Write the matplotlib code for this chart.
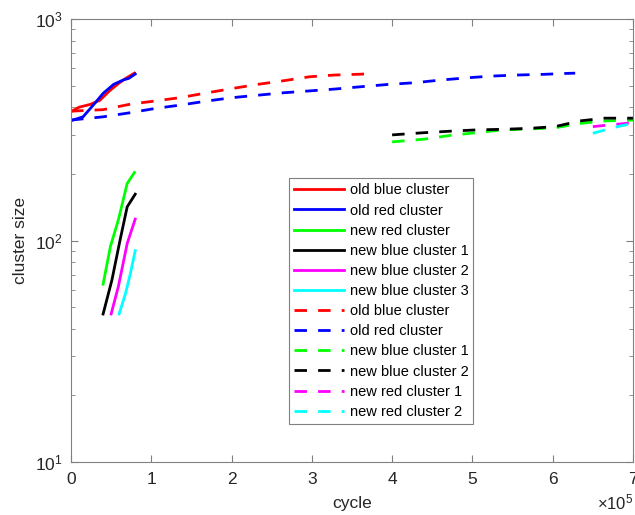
import math

import matplotlib.pyplot as plt
from matplotlib.ticker import FixedLocator, FuncFormatter, LogLocator, NullFormatter

plt.rcParams['font.family'] = ['Liberation Sans', 'DejaVu Sans']
plt.rcParams['mathtext.default'] = 'regular'

# first run (solid) - cycle in units of 1e5
run1_old_blue_x = [0, 0.10, 0.24, 0.36, 0.49, 0.61, 0.70, 0.79]
run1_old_blue_y = [382, 400, 412, 430, 478, 518, 545, 570]
run1_old_red_x = [0, 0.15, 0.28, 0.40, 0.53, 0.65, 0.72, 0.80]
run1_old_red_y = [348, 362, 410, 462, 507, 531, 540, 565]
run1_new_red_x = [0.40, 0.49, 0.59, 0.70, 0.79]
run1_new_red_y = [63.5, 93.7, 124, 181, 203]
run1_new_blue1_x = [0.40, 0.51, 0.61, 0.70, 0.80]
run1_new_blue1_y = [46.6, 66.4, 100, 142, 162]
run1_new_blue2_x = [0.50, 0.59, 0.70, 0.80]
run1_new_blue2_y = [46.6, 62, 97, 125]
run1_new_blue3_x = [0.60, 0.68, 0.74, 0.80]
run1_new_blue3_y = [46.6, 57.8, 71, 90]

# second run (dashed)
run2_old_blue_x = [0, 0.40, 0.74, 1.05, 1.36, 1.70, 2.01, 2.32, 2.65, 2.97, 3.28, 3.61, 3.68]
run2_old_blue_y = [384, 390, 413, 427, 442, 465, 486, 507, 527, 549, 559, 564, 566]
run2_old_red_x = [0, 0.40, 0.74, 1.05, 1.36, 1.70, 2.01, 2.32, 2.65, 2.97, 3.28, 3.61,
                  3.95, 4.28, 4.59, 4.93, 5.24, 5.55, 5.88, 6.20, 6.28]
run2_old_red_y = [350, 362, 378, 395, 409, 427, 442, 453, 465, 474, 483, 495,
                  507, 516, 530, 543, 553, 559, 563, 569, 570]
run2_new_blue1_x = [4.00, 4.40, 4.74, 5.05, 5.38, 5.70, 6.03, 6.34, 6.65, 7.00]
run2_new_blue1_y = [279, 287, 299, 307, 316, 319, 323, 338, 347, 350]
run2_new_blue2_x = [4.00, 4.40, 4.74, 5.05, 5.38, 5.70, 6.03, 6.34, 6.65, 7.00]
run2_new_blue2_y = [300, 307, 312, 316, 318, 321, 327, 347, 357, 357]
run2_new_red1_x = [6.50, 6.68, 6.84, 7.00]
run2_new_red1_y = [327, 332, 336, 341]
run2_new_red2_x = [6.50, 6.68, 6.84, 7.00]
run2_new_red2_y = [305, 318, 329, 338]

RED, BLUE, GREEN = (1, 0, 0), (0, 0, 1), (0, 1, 0)
BLACK, MAGENTA, CYAN = (0, 0, 0), (1, 0, 1), (0, 1, 1)

solid = [
    (run1_old_blue_x, run1_old_blue_y, RED, 'old blue cluster'),
    (run1_old_red_x, run1_old_red_y, BLUE, 'old red cluster'),
    (run1_new_red_x, run1_new_red_y, GREEN, 'new red cluster'),
    (run1_new_blue1_x, run1_new_blue1_y, BLACK, 'new blue cluster 1'),
    (run1_new_blue2_x, run1_new_blue2_y, MAGENTA, 'new blue cluster 2'),
    (run1_new_blue3_x, run1_new_blue3_y, CYAN, 'new blue cluster 3'),
]
dashed = [
    (run2_old_blue_x, run2_old_blue_y, RED, 'old blue cluster'),
    (run2_old_red_x, run2_old_red_y, BLUE, 'old red cluster'),
    (run2_new_blue1_x, run2_new_blue1_y, GREEN, 'new blue cluster 1'),
    (run2_new_blue2_x, run2_new_blue2_y, BLACK, 'new blue cluster 2'),
    (run2_new_red1_x, run2_new_red1_y, MAGENTA, 'new red cluster 1'),
    (run2_new_red2_x, run2_new_red2_y, CYAN, 'new red cluster 2'),
]

fig = plt.figure(figsize=(6.35, 5.15), dpi=100)
ax = fig.add_axes([0.1118, 0.1029, 0.885, 0.860])

for x, y, c, lab in solid:
    ax.plot([v * 1e5 for v in x], y, color=c, lw=2, label=lab)
for x, y, c, lab in dashed:
    ax.plot([v * 1e5 for v in x], y, color=c, lw=2, ls=(0, (4.5, 4)), label=lab)

ax.set_yscale('log')
ax.set_xlim(0, 7e5)
ax.set_ylim(10, 1000)

ax.xaxis.set_major_locator(FixedLocator([i * 1e5 for i in range(8)]))
ax.xaxis.set_major_formatter(FuncFormatter(lambda v, p: f'{v / 1e5:g}'))
ax.yaxis.set_major_locator(FixedLocator([10, 100, 1000]))
ax.yaxis.set_major_formatter(FuncFormatter(lambda v, p: f'10$^{{{round(math.log10(v))}}}$'))
ax.yaxis.set_minor_locator(LogLocator(base=10, subs=range(2, 10)))
ax.yaxis.set_minor_formatter(NullFormatter())

spine_col = '#808080'
for s in ax.spines.values():
    s.set_color(spine_col)
    s.set_linewidth(0.8)
ax.tick_params(which='both', direction='in', top=True, right=True, colors=spine_col,
               labelcolor='#262626', labelsize=12.5)
ax.tick_params(which='major', length=5)
ax.tick_params(which='minor', length=3)
ax.tick_params(axis='x', pad=7)
ax.tick_params(axis='y', pad=6)

ax.set_xlabel('cycle', fontsize=12.5, color='#262626', labelpad=7)
ax.set_ylabel('cluster size', fontsize=12.5, color='#262626', labelpad=5)
ax.text(1.0, -0.068, r'$\times$10$^5$', transform=ax.transAxes, ha='right', va='top',
        fontsize=12, color='#262626')

leg = ax.legend(loc='upper left', bbox_to_anchor=(0.375, 0.657), fontsize=10.5,
                handlelength=3.4, handletextpad=0.4, labelspacing=0.42,
                borderpad=0.35, fancybox=False, framealpha=1, edgecolor='#808080')
leg.get_frame().set_linewidth(0.8)

fig.savefig('out.png', dpi=100)
